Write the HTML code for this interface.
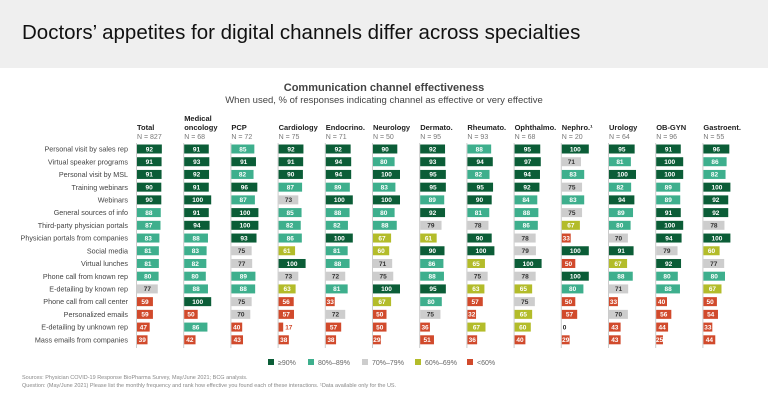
<!DOCTYPE html>
<html><head><meta charset="utf-8"><style>
body{margin:0;width:768px;height:402px;overflow:hidden;background:#fff;font-family:"Liberation Sans",sans-serif}
#top{position:absolute;left:0;top:0;width:768px;height:68px;background:#efefef}
#title{position:absolute;left:22px;top:21px;font-size:20.5px;color:#111}
svg{position:absolute;left:0;top:0}
</style></head><body>
<div id="top"><div id="title">Doctors’ appetites for digital channels differ across specialties</div></div>
<svg id="chart" width="768" height="402">
<text x="384" y="91" text-anchor="middle" font-size="11" font-weight="bold" fill="#444">Communication channel effectiveness</text>
<text x="384" y="103" text-anchor="middle" font-size="9.5" fill="#444">When used, % of responses indicating channel as effective or very effective</text>
<text x="22" y="379" font-size="5.5" fill="#888">Sources: Physician COVID-19 Response BioPharma Survey, May/June 2021; BCG analysis.</text>
<text x="22" y="387" font-size="5.5" fill="#888">Question: (May/June 2021) Please list the monthly frequency and rank how effective you found each of these interactions. ¹Data available only for the US.</text>
</svg>
<script>
const rows=["Personal visit by sales rep","Virtual speaker programs","Personal visit by MSL","Training webinars","Webinars","General sources of info","Third-party physician portals","Physician portals from companies","Social media","Virtual lunches","Phone call from known rep","E-detailing by known rep","Phone call from call center","Personalized emails","E-detailing by unknown rep","Mass emails from companies"];
const cols=["Total","Medical|oncology","PCP","Cardiology","Endocrino.","Neurology","Dermato.","Rheumato.","Ophthalmo.","Nephro.¹","Urology","OB-GYN","Gastroent."];
const ns=["827","68","72","75","71","50","95","93","68","20","64","96","55"];
const vTotal=[92,91,91,90,90,88,87,83,81,81,80,77,59,59,47,39];
const vMedOnc=[91,93,92,91,100,91,94,88,83,82,80,88,100,50,86,42];
const vPCP=[85,91,82,96,87,100,100,93,75,77,89,88,75,70,40,43];
const vCardio=[92,91,90,87,73,85,82,86,61,100,73,63,56,57,17,38];
const vEndo=[92,94,94,89,100,88,82,100,81,88,72,81,33,72,57,38];
const vNeuro=[90,80,100,83,100,80,88,67,60,71,75,100,67,50,50,29];
const vDerm=[92,93,95,95,89,92,79,61,90,86,88,95,80,75,36,51];
const vRheum=[88,94,82,95,90,81,78,90,100,65,75,63,57,32,67,36];
const vOphth=[95,97,94,92,84,88,86,78,79,100,78,65,75,65,60,40];
const vNephro=[100,71,83,75,83,75,67,33,100,50,100,80,50,57,0,29];
const vUro=[95,81,100,82,94,89,80,70,91,67,88,71,33,70,43,43];
const vObgyn=[91,100,100,89,89,91,100,94,79,92,80,88,40,56,44,25];
const vGastro=[96,86,82,100,92,92,78,100,60,77,80,67,50,54,33,44];
const series=[vTotal,vMedOnc,vPCP,vCardio,vEndo,vNeuro,vDerm,vRheum,vOphth,vNephro,vUro,vObgyn,vGastro];
const legendLabels=["≥90%","80%–89%","70%–79%","60%–69%","<60%"];
const colors=["#0b5d37","#3eaf8d","#cdcdcd","#b3bc2a","#d14a2c"];
const svg=document.getElementById('chart');const NS="http://www.w3.org/2000/svg";
function mk(t,a,p){const e=document.createElementNS(NS,t);for(const k in a)e.setAttribute(k,a[k]);(p||svg).appendChild(e);return e;}
const x0=137,dx=47.2,y0=149,dy=12.72,scale=0.27;
const colX=i=>x0+i*dx, rowY=j=>y0+j*dy, w=v=>v*scale;
function cIdx(v){return v>=90?0:v>=80?1:v>=70?2:v>=60?3:4;}
rows.forEach((r,j)=>{const t=mk('text',{x:128,y:rowY(j)+2.6,'text-anchor':'end','font-size':7.2,fill:'#444'});t.textContent=r;

});
cols.forEach((c,i)=>{const x=colX(i);const parts=c.split('|');
parts.forEach((p,k)=>{const t=mk('text',{x:x,y:130-(parts.length-1-k)*9,'font-size':7.5,'font-weight':'bold',fill:'#222'});t.textContent=p;

});
const n=mk('text',{x:x,y:139,'font-size':7,fill:'#777'});n.textContent='N = '+ns[i];


const ax=mk('line',{x1:x-0.5,x2:x-0.5,y1:143,y2:348,stroke:'#ccc','stroke-width':1});


series[i].forEach((v,j)=>{const y=rowY(j);const ci=cIdx(v);
const b=mk('rect',{x:x,y:y-4.5,width:w(v),height:9,fill:colors[ci]});


const small=v<20;
const t=mk('text',{x:small?x+w(v)+(v>0?2:1):x+w(v)/2,y:y+2.3,'text-anchor':small?'start':'middle','font-size':6.5,'font-weight':'bold',fill:small?(v>0?colors[4]:'#222'):(ci==2?'#333':'#fff')});
t.textContent=v;

});});
const lx=[268,308,362,415,467];
legendLabels.forEach((l,k)=>{const r=mk('rect',{x:lx[k],y:359,width:6,height:6,fill:colors[k]});


const t=mk('text',{x:lx[k]+10,y:365,'font-size':7,fill:'#666'});t.textContent=l;

});
</script>
</body></html>
